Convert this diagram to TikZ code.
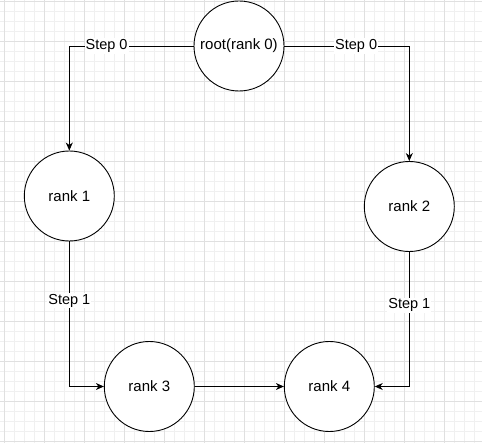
\documentclass[tikz,border=0pt]{standalone}
\usepackage{fontspec}
\setmainfont{Liberation Sans}
\usetikzlibrary{arrows.meta}
\begin{document}
\begin{tikzpicture}[x=1pt,y=-1pt,
  rank/.style={circle,draw,line width=0.9pt,minimum size=90pt,inner sep=0pt,font=\fontsize{15}{18}\selectfont,fill=white},
  lbl/.style={fill=white,inner sep=1pt,font=\fontsize{14.5}{17}\selectfont},
  conn/.style={line width=0.9pt,-{Stealth[length=8pt,width=7pt,inset=2.5pt]}},
  gminor/.style={draw=black!6,line width=0.7pt},
  gmajor/.style={draw=black!12,line width=0.8pt}]
\useasboundingbox (0,0) rectangle (482,443);
\fill[white] (0,0) rectangle (482,443);
\foreach \x in {4.5,14.5,...,482} \draw[gminor] (\x,0) -- (\x,443);
\foreach \y in {1.7,11.7,...,443} \draw[gminor] (0,\y) -- (482,\y);
\foreach \x in {4.5,44.5,...,482} \draw[gmajor] (\x,0) -- (\x,443);
\foreach \y in {1.7,41.7,...,443} \draw[gmajor] (0,\y) -- (482,\y);

\node[rank] (root) at (239,46) {root(rank 0)};
\node[rank] (r1) at (69.3,196) {rank 1};
\node[rank] (r2) at (409.3,206.5) {rank 2};
\node[rank] (r3) at (149.3,386.5) {rank 3};
\node[rank] (r4) at (329.3,386.5) {rank 4};

\draw[conn] (root.west) -| node[lbl,pos=0.35]{Step 0} (r1.north);
\draw[conn] (root.east) -| node[lbl,pos=0.287]{Step 0} (r2.north);
\draw[conn] (r1.south) |- node[lbl,pos=0.205]{Step 1} (r3.west);
\draw[conn] (r2.south) |- node[lbl,pos=0.198]{Step 1} (r4.east);
\draw[conn] (r3.east) -- (r4.west);
\end{tikzpicture}
\end{document}
